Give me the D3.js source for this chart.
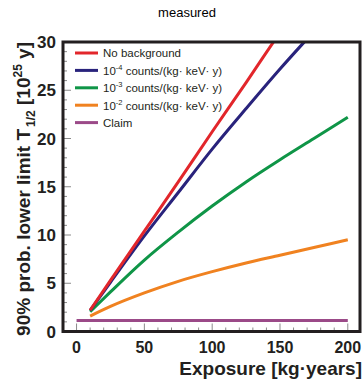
<!DOCTYPE html>
<html>
<head>
<meta charset="utf-8">
<script src="https://cdn.jsdelivr.net/npm/d3@7"></script>
<style>
  body { margin: 0; background: #fff; }
  text { font-family: "Liberation Sans", Arial, Helvetica, sans-serif; }
</style>
</head>
<body>
<script>
// exposure in kg*years, limits in units of 10^25 y
const exposure = [10, 25, 50, 75, 100, 125, 150, 175, 200];
const noBkg    = [2.2, 5.3, 10.4, 15.5, 20.7, 25.8, 31.0, 36.1, 41.2];
const bkg4     = [2.2, 5.1, 9.9, 14.4, 18.9, 23.1, 27.2, 31.1, 35.0];
const bkg3     = [2.05, 4.1, 7.4, 10.3, 13.0, 15.5, 17.8, 20.0, 22.2];
const bkg2     = [1.6, 2.6, 4.0, 5.2, 6.2, 7.1, 7.9, 8.7, 9.5];
const claimX   = [0, 200];
const claimY   = [1.15, 1.15];
const xTicks   = [0, 50, 100, 150, 200];
const yTicks   = [0, 5, 10, 15, 20, 25, 30];

const W = 364, H = 380;
const margin = {top: 42, right: 4, bottom: 48.5, left: 63};
const w = W - margin.left - margin.right;
const h = H - margin.top - margin.bottom;

const svg = d3.select("body").append("svg")
    .attr("width", W)
    .attr("height", H);

const x = d3.scaleLinear().domain([-10, 209]).range([margin.left, margin.left + w]);
const y = d3.scaleLinear().domain([0, 30]).range([margin.top + h, margin.top]);

// title
svg.append("text")
    .attr("x", 187).attr("y", 17)
    .attr("text-anchor", "middle")
    .attr("font-size", 13)
    .text("measured");

// minor / major ticks drawn inside the frame
const tickCol = "#8a8a8a";
const yMinor = d3.range(1, 30);
svg.append("g").selectAll("line")
    .data(yMinor).enter().append("line")
    .attr("x1", margin.left)
    .attr("x2", d => margin.left + (d % 5 === 0 ? 8 : 4))
    .attr("y1", d => y(d)).attr("y2", d => y(d))
    .attr("stroke", tickCol).attr("stroke-width", 1);

const xMinor = d3.range(0, 201, 10);
svg.append("g").selectAll("line")
    .data(xMinor).enter().append("line")
    .attr("x1", d => x(d)).attr("x2", d => x(d))
    .attr("y1", y(0))
    .attr("y2", d => y(0) - (d % 50 === 0 ? 8 : 4))
    .attr("stroke", tickCol).attr("stroke-width", 1);

// tick labels
svg.append("g").selectAll("text")
    .data(yTicks).enter().append("text")
    .attr("x", 56).attr("y", d => y(d))
    .attr("dy", "0.36em")
    .attr("text-anchor", "end")
    .attr("font-size", 17).attr("font-weight", "bold")
    .attr("fill", "#231f20")
    .text(d => d);

svg.append("g").selectAll("text")
    .data(xTicks).enter().append("text")
    .attr("x", d => x(d)).attr("y", 353)
    .attr("text-anchor", "middle")
    .attr("font-size", 16).attr("font-weight", "bold")
    .attr("fill", "#231f20")
    .text(d => d);

// clip so steep lines stop at the frame
svg.append("clipPath").attr("id", "plot")
    .append("rect")
    .attr("x", margin.left).attr("y", margin.top)
    .attr("width", w).attr("height", h);

const series = [
    {vals: noBkg, color: "#e2262b"},
    {vals: bkg4,  color: "#29237c"},
    {vals: bkg3,  color: "#0f9547"},
    {vals: bkg2,  color: "#f08220"}
];

const line = d3.line()
    .x(d => x(d[0]))
    .y(d => y(d[1]))
    .curve(d3.curveMonotoneX);

const plot = svg.append("g").attr("clip-path", "url(#plot)");

plot.append("path")
    .datum(claimX.map((d, i) => [d, claimY[i]]))
    .attr("d", line)
    .attr("fill", "none")
    .attr("stroke", "#9b4a88")
    .attr("stroke-width", 3);

// draw back to front so red ends on top
series.slice().reverse().forEach(s => {
    plot.append("path")
        .datum(exposure.map((d, i) => [d, s.vals[i]]))
        .attr("d", line)
        .attr("fill", "none")
        .attr("stroke", s.color)
        .attr("stroke-width", 3);
});

// frame
svg.append("rect")
    .attr("x", margin.left).attr("y", margin.top)
    .attr("width", w).attr("height", h)
    .attr("fill", "none")
    .attr("stroke", "#231f20")
    .attr("stroke-width", 3);

// legend
const legend = [
    {color: "#e2262b", pre: "No background"},
    {color: "#29237c", pre: "10", sup: "-4", post: " counts/(kg· keV· y)"},
    {color: "#0f9547", pre: "10", sup: "-3", post: " counts/(kg· keV· y)"},
    {color: "#f08220", pre: "10", sup: "-2", post: " counts/(kg· keV· y)"},
    {color: "#9b4a88", pre: "Claim"}
];
const lg = svg.append("g").selectAll("g")
    .data(legend).enter().append("g")
    .attr("transform", (d, i) => "translate(0," + (53 + i * 17.4) + ")");
lg.append("line")
    .attr("x1", 75).attr("x2", 98)
    .attr("stroke", d => d.color)
    .attr("stroke-width", 3);
const lt = lg.append("text")
    .attr("x", 103).attr("y", 4.3)
    .attr("font-size", 11.5)
    .attr("fill", "#231f20");
lt.append("tspan").text(d => d.pre);
lt.filter(d => d.sup).append("tspan")
    .attr("font-size", 7.5).attr("dy", -5)
    .text(d => d.sup);
lt.filter(d => d.sup).append("tspan")
    .attr("dy", 5)
    .text(d => d.post);

// axis titles
svg.append("text")
    .attr("x", 362).attr("y", 375)
    .attr("text-anchor", "end")
    .attr("font-size", 19).attr("font-weight", "bold")
    .attr("fill", "#231f20")
    .text("Exposure [kg·years]");

const yt = svg.append("text")
    .attr("transform", "translate(30,42) rotate(-90)")
    .attr("text-anchor", "end")
    .attr("font-size", 19).attr("font-weight", "bold")
    .attr("fill", "#231f20");
yt.append("tspan").text("90% prob. lower limit T");
yt.append("tspan").attr("font-size", 12).attr("dy", 5).attr("dx", 2).text("1/2");
yt.append("tspan").attr("dy", -5).text(" [10");
yt.append("tspan").attr("font-size", 12).attr("dy", -8).text("25");
yt.append("tspan").attr("dy", 8).text(" y]");
</script>
</body>
</html>
